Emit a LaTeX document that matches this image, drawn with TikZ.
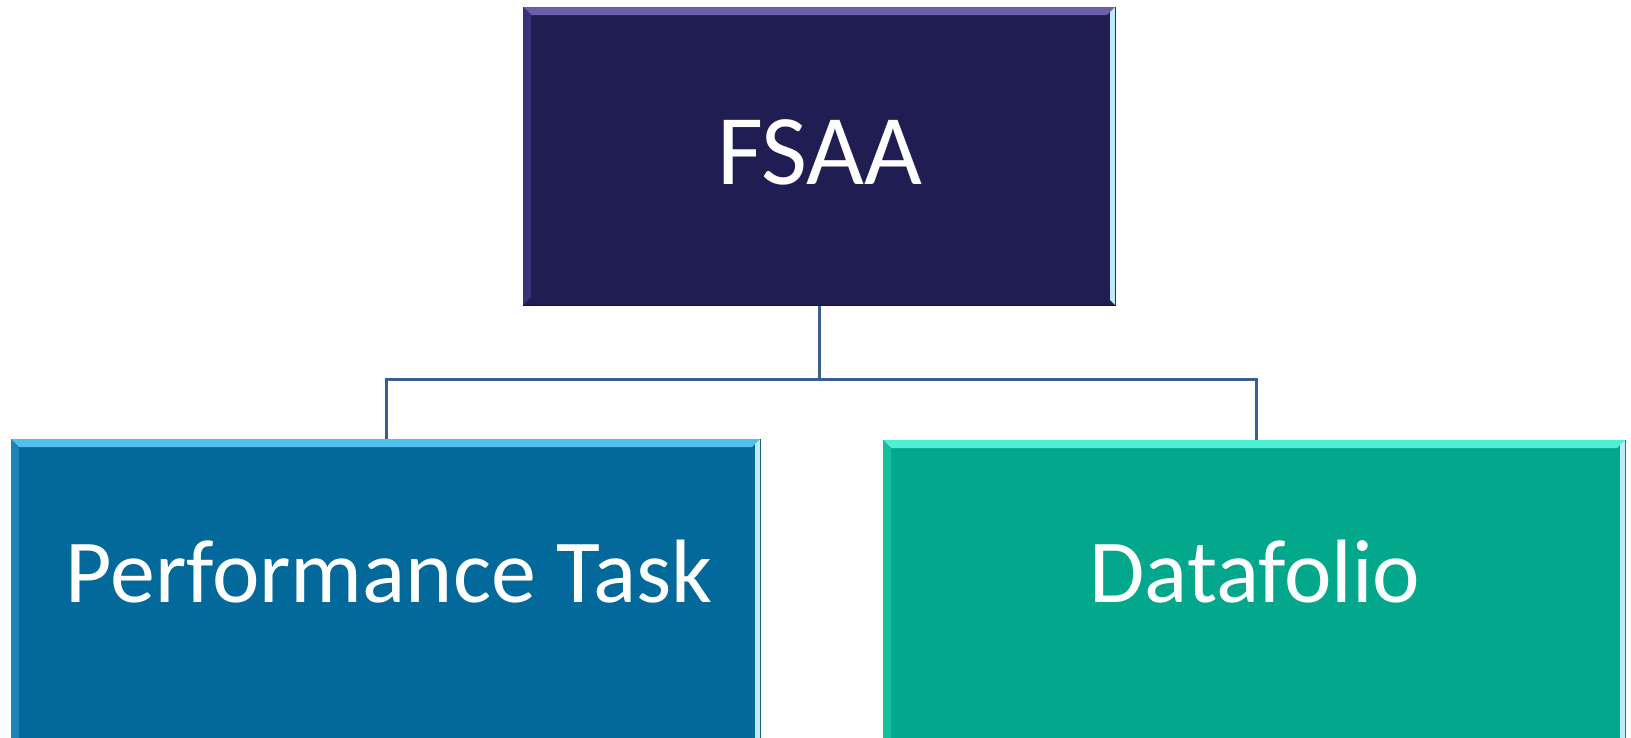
\documentclass[tikz,border=0pt]{standalone}
\usepackage{fontspec}
\setmainfont{Carlito}
\definecolor{navy}{HTML}{201D52}
\definecolor{navyhi}{HTML}{6A5FA8}
\definecolor{navyside}{HTML}{35337A}
\definecolor{blu}{HTML}{03699A}
\definecolor{bluhi}{HTML}{4FC0F0}
\definecolor{bluside}{HTML}{1B83B8}
\definecolor{grn}{HTML}{03A88C}
\definecolor{grnhi}{HTML}{4FEFD5}
\definecolor{grnside}{HTML}{17BFA2}
\definecolor{conn}{HTML}{3A5F8A}
\tikzset{
  box/.style={draw=#1!70!black, line width=1.2pt, fill=#1, inner sep=0pt, anchor=north west},
  lbl/.style={text=white, inner sep=0pt},
  link/.style={draw=conn, line width=3pt}
}
\newcommand{\bevel}[6]{% x0 y0 x1 y1 hi side
  \fill[#5] (#1,#2) -- (#3,#2) -- (#3-8,#2+8) -- (#1+8,#2+8) -- cycle;
  \fill[#6] (#1,#2) -- (#1+8,#2+8) -- (#1+8,#4-8) -- (#1,#4) -- cycle;
  \fill[white!75!cyan] (#3,#2) -- (#3,#4) -- (#3-5,#4-5) -- (#3-5,#2+5) -- cycle;
}
\begin{document}
\begin{tikzpicture}[x=1pt,y=-1pt]
\useasboundingbox (0,0) rectangle (1631,737);
% boxes
\node[box=navy, minimum width=592pt, minimum height=298pt] (top) at (523,7) {};
\node[box=blu, minimum width=749pt, minimum height=320pt] (left) at (11,439) {};
\node[box=grn, minimum width=742pt, minimum height=320pt] (right) at (883,440) {};
\bevel{523}{7}{1115}{305}{navyhi}{navyside}
\bevel{11}{439}{760}{760}{bluhi}{bluside}
\bevel{883}{440}{1625}{760}{grnhi}{grnside}
% texts
\node[lbl, font=\fontsize{100}{114}\selectfont] (tfsaa) at (820,152) {FSAA};
\node[lbl, font=\fontsize{90}{104}\selectfont] (tpt) at (389,572) {Performance Task};
\node[lbl, font=\fontsize{90}{104}\selectfont] (tdf) at (1255,572) {Datafolio};
% connectors
\coordinate (mid) at (top.south |- 0,379);
\draw[link] (top.south) -- (mid);
\draw[link] (mid) -| (left.north);
\draw[link] (mid) -| ([xshift=2pt]right.north);
\end{tikzpicture}
\end{document}
